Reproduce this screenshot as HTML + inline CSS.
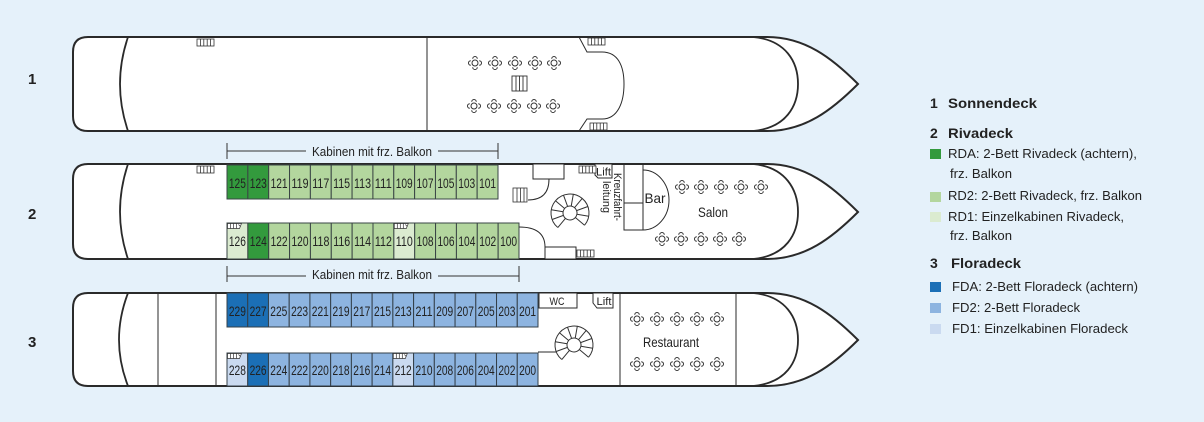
<!DOCTYPE html>
<html><head><meta charset="utf-8"><style>
html,body{margin:0;padding:0;background:#e5f1fa;}
svg{display:block;}
text{font-family:"Liberation Sans",sans-serif;fill:#222;}
</style></head><body>
<svg width="1204" height="422" viewBox="0 0 1204 422" xmlns="http://www.w3.org/2000/svg">
<defs>
<g id="tb" fill="none" stroke="#333" stroke-width="1">
<circle r="3"/>
<path d="M-2.3,-4.2 A2.3,2.3 0 0 1 2.3,-4.2 M-2.3,4.2 A2.3,2.3 0 0 0 2.3,4.2 M-4.2,-2.3 A2.3,2.3 0 0 0 -4.2,2.3 M4.2,-2.3 A2.3,2.3 0 0 1 4.2,2.3"/>
</g>
<g id="sp" fill="none" stroke="#333" stroke-width="1">
<circle r="7" fill="#fff"/>
<path d="M-16.45,9.5 A19,19 0 1 1 9.5,16.45"/>
<path d="M-6.06,3.5L-16.45,9.5 M-7,0L-19,0 M-6.06,-3.5L-16.45,-9.5 M-3.5,-6.06L-9.5,-16.45 M0,-7L0,-19 M3.5,-6.06L9.5,-16.45 M6.06,-3.5L16.45,-9.5 M7,0L19,0 M6.06,3.5L16.45,9.5 M3.5,6.06L9.5,16.45"/>
</g>
<g id="st" fill="#fff" stroke="#333" stroke-width="0.8">
<rect x="0" y="0" width="17" height="7"/>
<path d="M3.4,0V7M6.8,0V7M10.2,0V7M13.6,0V7"/>
</g>
<g id="hs" fill="#fff" stroke="#333" stroke-width="0.7">
<path d="M0,0H14L12,5H0Z"/>
<path d="M3,0V5M6,0V5M9,0V5M11,1L13,3"/>
</g>
</defs>

<text x="28" y="84" font-size="15" font-weight="bold">1</text>
<text x="28" y="219" font-size="15" font-weight="bold">2</text>
<text x="28" y="347" font-size="15" font-weight="bold">3</text>

<!-- DECK 1 -->
<path d="M88,37 L767,37 C805,37 832,58 858,84 C832,110 805,131 767,131 L88,131 Q73,131 73,116 L73,52 Q73,37 88,37 Z" stroke="#2a2a2a" stroke-width="2" fill="#fff"/>
<g fill="none" stroke="#2a2a2a">
<path d="M128,37 Q112,84 128,131" stroke-width="1.8"/>
<path d="M753,37 C786,40 798,62 798,84 C798,106 786,128 753,131" stroke-width="1.8"/>
<path d="M427,37V131" stroke-width="1"/>
<path d="M579,37 L587,52 L602,52 C618,52 624,66 624,84 C624,102 618,119 602,119 L587,119 L579,131" stroke-width="1"/>
</g>
<use href="#st" x="197" y="39"/>
<use href="#st" x="588" y="38"/>
<use href="#st" x="590" y="123"/>
<g fill="#fff" stroke="#333" stroke-width="0.9">
<rect x="512" y="76" width="15" height="15"/>
<path d="M516,76V91M519.5,76V91M523,76V91"/>
</g>
<use href="#tb" x="475" y="63"/><use href="#tb" x="495" y="63"/><use href="#tb" x="515" y="63"/><use href="#tb" x="535" y="63"/><use href="#tb" x="554" y="63"/>
<use href="#tb" x="474" y="106"/><use href="#tb" x="494" y="106"/><use href="#tb" x="514" y="106"/><use href="#tb" x="534" y="106"/><use href="#tb" x="553" y="106"/>

<!-- DECK 2 -->
<g stroke="#333" stroke-width="1">
<path d="M227,143V159M498,143V159M227,151H306M438,151H498"/>
<path d="M227,266V282M519,266V282M227,276H306M438,276H519"/>
</g>
<text x="312" y="156" font-size="13" textLength="120" lengthAdjust="spacingAndGlyphs">Kabinen mit frz. Balkon</text>
<text x="312" y="279" font-size="13" textLength="120" lengthAdjust="spacingAndGlyphs">Kabinen mit frz. Balkon</text>

<path d="M88,164 L767,164 C805,164 832,186 858,212 C832,238 805,259 767,259 L88,259 Q73,259 73,244 L73,179 Q73,164 88,164 Z" stroke="#2a2a2a" stroke-width="2" fill="#fff"/>
<g fill="none" stroke="#2a2a2a">
<path d="M128,164 Q112,212 128,259" stroke-width="1.8"/>
<path d="M753,164 C786,167 798,190 798,212 C798,234 786,256 753,259" stroke-width="1.8"/>
</g>
<use href="#st" x="197" y="166"/>

<g stroke="#3a4545" stroke-width="1">
<rect x="227" y="165" width="20.85" height="34" fill="#339a3d"/>
<rect x="247.85" y="165" width="20.85" height="34" fill="#339a3d"/>
<rect x="268.69" y="165" width="20.85" height="34" fill="#b3d69e"/>
<rect x="289.54" y="165" width="20.85" height="34" fill="#b3d69e"/>
<rect x="310.38" y="165" width="20.85" height="34" fill="#b3d69e"/>
<rect x="331.23" y="165" width="20.85" height="34" fill="#b3d69e"/>
<rect x="352.08" y="165" width="20.85" height="34" fill="#b3d69e"/>
<rect x="372.92" y="165" width="20.85" height="34" fill="#b3d69e"/>
<rect x="393.77" y="165" width="20.85" height="34" fill="#b3d69e"/>
<rect x="414.62" y="165" width="20.85" height="34" fill="#b3d69e"/>
<rect x="435.46" y="165" width="20.85" height="34" fill="#b3d69e"/>
<rect x="456.31" y="165" width="20.85" height="34" fill="#b3d69e"/>
<rect x="477.15" y="165" width="20.85" height="34" fill="#b3d69e"/>
</g>
<g font-size="14" text-anchor="middle">
<text x="237.4" y="188" textLength="17" lengthAdjust="spacingAndGlyphs">125</text>
<text x="258.3" y="188" textLength="17" lengthAdjust="spacingAndGlyphs">123</text>
<text x="279.1" y="188" textLength="17" lengthAdjust="spacingAndGlyphs">121</text>
<text x="300.0" y="188" textLength="17" lengthAdjust="spacingAndGlyphs">119</text>
<text x="320.8" y="188" textLength="17" lengthAdjust="spacingAndGlyphs">117</text>
<text x="341.6" y="188" textLength="17" lengthAdjust="spacingAndGlyphs">115</text>
<text x="362.5" y="188" textLength="17" lengthAdjust="spacingAndGlyphs">113</text>
<text x="383.3" y="188" textLength="17" lengthAdjust="spacingAndGlyphs">111</text>
<text x="404.2" y="188" textLength="17" lengthAdjust="spacingAndGlyphs">109</text>
<text x="425.0" y="188" textLength="17" lengthAdjust="spacingAndGlyphs">107</text>
<text x="445.9" y="188" textLength="17" lengthAdjust="spacingAndGlyphs">105</text>
<text x="466.7" y="188" textLength="17" lengthAdjust="spacingAndGlyphs">103</text>
<text x="487.6" y="188" textLength="17" lengthAdjust="spacingAndGlyphs">101</text>
</g>

<g stroke="#3a4545" stroke-width="1">
<rect x="227" y="223" width="20.86" height="36" fill="#dbebd0"/>
<rect x="247.86" y="223" width="20.86" height="36" fill="#339a3d"/>
<rect x="268.71" y="223" width="20.86" height="36" fill="#b3d69e"/>
<rect x="289.57" y="223" width="20.86" height="36" fill="#b3d69e"/>
<rect x="310.43" y="223" width="20.86" height="36" fill="#b3d69e"/>
<rect x="331.29" y="223" width="20.86" height="36" fill="#b3d69e"/>
<rect x="352.14" y="223" width="20.86" height="36" fill="#b3d69e"/>
<rect x="373.0" y="223" width="20.86" height="36" fill="#b3d69e"/>
<rect x="393.86" y="223" width="20.86" height="36" fill="#dbebd0"/>
<rect x="414.71" y="223" width="20.86" height="36" fill="#b3d69e"/>
<rect x="435.57" y="223" width="20.86" height="36" fill="#b3d69e"/>
<rect x="456.43" y="223" width="20.86" height="36" fill="#b3d69e"/>
<rect x="477.29" y="223" width="20.86" height="36" fill="#b3d69e"/>
<rect x="498.14" y="223" width="20.86" height="36" fill="#b3d69e"/>
</g>
<use href="#hs" x="227.5" y="223.5"/>
<use href="#hs" x="394.3" y="223.5"/>
<g font-size="14" text-anchor="middle">
<text x="237.4" y="246" textLength="17" lengthAdjust="spacingAndGlyphs">126</text>
<text x="258.3" y="246" textLength="17" lengthAdjust="spacingAndGlyphs">124</text>
<text x="279.1" y="246" textLength="17" lengthAdjust="spacingAndGlyphs">122</text>
<text x="300.0" y="246" textLength="17" lengthAdjust="spacingAndGlyphs">120</text>
<text x="320.9" y="246" textLength="17" lengthAdjust="spacingAndGlyphs">118</text>
<text x="341.7" y="246" textLength="17" lengthAdjust="spacingAndGlyphs">116</text>
<text x="362.6" y="246" textLength="17" lengthAdjust="spacingAndGlyphs">114</text>
<text x="383.4" y="246" textLength="17" lengthAdjust="spacingAndGlyphs">112</text>
<text x="404.3" y="246" textLength="17" lengthAdjust="spacingAndGlyphs">110</text>
<text x="425.1" y="246" textLength="17" lengthAdjust="spacingAndGlyphs">108</text>
<text x="446.0" y="246" textLength="17" lengthAdjust="spacingAndGlyphs">106</text>
<text x="466.9" y="246" textLength="17" lengthAdjust="spacingAndGlyphs">104</text>
<text x="487.7" y="246" textLength="17" lengthAdjust="spacingAndGlyphs">102</text>
<text x="508.6" y="246" textLength="17" lengthAdjust="spacingAndGlyphs">100</text>
</g>

<g fill="none" stroke="#2a2a2a" stroke-width="1">
<rect x="533" y="164" width="31" height="15" fill="#fff"/>
<path d="M549,179 Q549,200 528,200"/>
<path d="M519,227 Q545,227 545,247"/>
<rect x="545" y="247" width="31" height="12" fill="#fff"/>
<path d="M624,164V230H643V164M624,203H643"/>
<path d="M643,170 A26,30 0 0 1 643,230"/>
<path d="M595,164 L612,164 L612,178 L598,178 L595,175 Z" fill="#fff"/>
</g>
<g fill="#fff" stroke="#333" stroke-width="0.8">
<rect x="513" y="188" width="14" height="14"/>
<path d="M517,188V202M520.5,188V202M524,188V202"/>
</g>
<use href="#st" x="579" y="166"/>
<use href="#st" x="577" y="250"/>
<use href="#sp" transform="translate(570,213) rotate(-20)"/>
<text x="603.5" y="175.5" font-size="11" text-anchor="middle" textLength="15" lengthAdjust="spacingAndGlyphs">Lift</text>
<g transform="translate(614,197) rotate(90)">
<text x="0" y="0" font-size="11" text-anchor="middle" textLength="48" lengthAdjust="spacingAndGlyphs">Kreuzfahrt-</text>
<text x="0" y="11" font-size="11" text-anchor="middle" textLength="32" lengthAdjust="spacingAndGlyphs">leitung</text>
</g>
<text x="655" y="203" font-size="14" text-anchor="middle" textLength="21" lengthAdjust="spacingAndGlyphs">Bar</text>
<text x="713" y="217" font-size="14" text-anchor="middle" textLength="30" lengthAdjust="spacingAndGlyphs">Salon</text>
<use href="#tb" x="682" y="187"/><use href="#tb" x="701" y="187"/><use href="#tb" x="721" y="187"/><use href="#tb" x="741" y="187"/><use href="#tb" x="761" y="187"/>
<use href="#tb" x="662" y="239"/><use href="#tb" x="681" y="239"/><use href="#tb" x="701" y="239"/><use href="#tb" x="720" y="239"/><use href="#tb" x="739" y="239"/>

<!-- DECK 3 -->
<path d="M88,293 L767,293 C805,293 832,314 858,340 C832,366 805,386 767,386 L88,386 Q73,386 73,371 L73,308 Q73,293 88,293 Z" stroke="#2a2a2a" stroke-width="2" fill="#fff"/>
<g fill="none" stroke="#2a2a2a">
<path d="M128,293 Q110,340 128,386" stroke-width="1.8"/>
<path d="M753,293 C786,296 798,318 798,340 C798,362 786,383 753,386" stroke-width="1.8"/>
<path d="M158,293V386M216,293V386M620,293V386M736,293V386" stroke-width="1"/>
</g>
<g stroke="#34404a" stroke-width="1">
<rect x="227" y="293" width="20.73" height="34" fill="#1b6fb6"/>
<rect x="247.73" y="293" width="20.73" height="34" fill="#1b6fb6"/>
<rect x="268.47" y="293" width="20.73" height="34" fill="#8db4e0"/>
<rect x="289.2" y="293" width="20.73" height="34" fill="#8db4e0"/>
<rect x="309.93" y="293" width="20.73" height="34" fill="#8db4e0"/>
<rect x="330.67" y="293" width="20.73" height="34" fill="#8db4e0"/>
<rect x="351.4" y="293" width="20.73" height="34" fill="#8db4e0"/>
<rect x="372.13" y="293" width="20.73" height="34" fill="#8db4e0"/>
<rect x="392.87" y="293" width="20.73" height="34" fill="#8db4e0"/>
<rect x="413.6" y="293" width="20.73" height="34" fill="#8db4e0"/>
<rect x="434.33" y="293" width="20.73" height="34" fill="#8db4e0"/>
<rect x="455.07" y="293" width="20.73" height="34" fill="#8db4e0"/>
<rect x="475.8" y="293" width="20.73" height="34" fill="#8db4e0"/>
<rect x="496.53" y="293" width="20.73" height="34" fill="#8db4e0"/>
<rect x="517.27" y="293" width="20.73" height="34" fill="#8db4e0"/>
</g>
<g font-size="14" text-anchor="middle">
<text x="237.4" y="316" textLength="17" lengthAdjust="spacingAndGlyphs">229</text>
<text x="258.1" y="316" textLength="17" lengthAdjust="spacingAndGlyphs">227</text>
<text x="278.8" y="316" textLength="17" lengthAdjust="spacingAndGlyphs">225</text>
<text x="299.6" y="316" textLength="17" lengthAdjust="spacingAndGlyphs">223</text>
<text x="320.3" y="316" textLength="17" lengthAdjust="spacingAndGlyphs">221</text>
<text x="341.0" y="316" textLength="17" lengthAdjust="spacingAndGlyphs">219</text>
<text x="361.8" y="316" textLength="17" lengthAdjust="spacingAndGlyphs">217</text>
<text x="382.5" y="316" textLength="17" lengthAdjust="spacingAndGlyphs">215</text>
<text x="403.2" y="316" textLength="17" lengthAdjust="spacingAndGlyphs">213</text>
<text x="424.0" y="316" textLength="17" lengthAdjust="spacingAndGlyphs">211</text>
<text x="444.7" y="316" textLength="17" lengthAdjust="spacingAndGlyphs">209</text>
<text x="465.4" y="316" textLength="17" lengthAdjust="spacingAndGlyphs">207</text>
<text x="486.2" y="316" textLength="17" lengthAdjust="spacingAndGlyphs">205</text>
<text x="506.9" y="316" textLength="17" lengthAdjust="spacingAndGlyphs">203</text>
<text x="527.6" y="316" textLength="17" lengthAdjust="spacingAndGlyphs">201</text>
</g>
<g stroke="#34404a" stroke-width="1">
<rect x="227" y="353" width="20.73" height="33" fill="#cadaf0"/>
<rect x="247.73" y="353" width="20.73" height="33" fill="#1b6fb6"/>
<rect x="268.47" y="353" width="20.73" height="33" fill="#8db4e0"/>
<rect x="289.2" y="353" width="20.73" height="33" fill="#8db4e0"/>
<rect x="309.93" y="353" width="20.73" height="33" fill="#8db4e0"/>
<rect x="330.67" y="353" width="20.73" height="33" fill="#8db4e0"/>
<rect x="351.4" y="353" width="20.73" height="33" fill="#8db4e0"/>
<rect x="372.13" y="353" width="20.73" height="33" fill="#8db4e0"/>
<rect x="392.87" y="353" width="20.73" height="33" fill="#cadaf0"/>
<rect x="413.6" y="353" width="20.73" height="33" fill="#8db4e0"/>
<rect x="434.33" y="353" width="20.73" height="33" fill="#8db4e0"/>
<rect x="455.07" y="353" width="20.73" height="33" fill="#8db4e0"/>
<rect x="475.8" y="353" width="20.73" height="33" fill="#8db4e0"/>
<rect x="496.53" y="353" width="20.73" height="33" fill="#8db4e0"/>
<rect x="517.27" y="353" width="20.73" height="33" fill="#8db4e0"/>
</g>
<use href="#hs" x="227.5" y="353.5"/>
<use href="#hs" x="393.3" y="353.5"/>
<g font-size="14" text-anchor="middle">
<text x="237.4" y="375" textLength="17" lengthAdjust="spacingAndGlyphs">228</text>
<text x="258.1" y="375" textLength="17" lengthAdjust="spacingAndGlyphs">226</text>
<text x="278.8" y="375" textLength="17" lengthAdjust="spacingAndGlyphs">224</text>
<text x="299.6" y="375" textLength="17" lengthAdjust="spacingAndGlyphs">222</text>
<text x="320.3" y="375" textLength="17" lengthAdjust="spacingAndGlyphs">220</text>
<text x="341.0" y="375" textLength="17" lengthAdjust="spacingAndGlyphs">218</text>
<text x="361.8" y="375" textLength="17" lengthAdjust="spacingAndGlyphs">216</text>
<text x="382.5" y="375" textLength="17" lengthAdjust="spacingAndGlyphs">214</text>
<text x="403.2" y="375" textLength="17" lengthAdjust="spacingAndGlyphs">212</text>
<text x="424.0" y="375" textLength="17" lengthAdjust="spacingAndGlyphs">210</text>
<text x="444.7" y="375" textLength="17" lengthAdjust="spacingAndGlyphs">208</text>
<text x="465.4" y="375" textLength="17" lengthAdjust="spacingAndGlyphs">206</text>
<text x="486.2" y="375" textLength="17" lengthAdjust="spacingAndGlyphs">204</text>
<text x="506.9" y="375" textLength="17" lengthAdjust="spacingAndGlyphs">202</text>
<text x="527.6" y="375" textLength="17" lengthAdjust="spacingAndGlyphs">200</text>
</g>
<g fill="#fff" stroke="#2a2a2a" stroke-width="1">
<rect x="539" y="293" width="38" height="15"/>
<path d="M593,293 L613,293 L613,308 L597,308 L593,303 Z"/>
<path d="M538,352 H556" fill="none"/>
</g>
<text x="557" y="305" font-size="11" text-anchor="middle" textLength="15" lengthAdjust="spacingAndGlyphs">WC</text>
<text x="604" y="305" font-size="11" text-anchor="middle" textLength="15" lengthAdjust="spacingAndGlyphs">Lift</text>
<use href="#sp" transform="translate(574,345) rotate(-20)"/>
<text x="671" y="347" font-size="14" text-anchor="middle" textLength="56" lengthAdjust="spacingAndGlyphs">Restaurant</text>
<use href="#tb" x="637" y="319"/><use href="#tb" x="657" y="319"/><use href="#tb" x="677" y="319"/><use href="#tb" x="697" y="319"/><use href="#tb" x="717" y="319"/>
<use href="#tb" x="637" y="364"/><use href="#tb" x="657" y="364"/><use href="#tb" x="677" y="364"/><use href="#tb" x="697" y="364"/><use href="#tb" x="717" y="364"/>

<!-- LEGEND -->
<g font-size="14" font-weight="bold">
<text x="930" y="108">1</text>
<text x="948" y="108" textLength="89" lengthAdjust="spacingAndGlyphs">Sonnendeck</text>
<text x="930" y="138">2</text>
<text x="948" y="138" textLength="65" lengthAdjust="spacingAndGlyphs">Rivadeck</text>
<text x="930" y="268">3</text>
<text x="951" y="268" textLength="70" lengthAdjust="spacingAndGlyphs">Floradeck</text>
</g>
<rect x="930" y="149" width="11" height="10" fill="#339a3d"/>
<rect x="930" y="192" width="11" height="10" fill="#b3d69e"/>
<rect x="930" y="212" width="11" height="10" fill="#dbebd0"/>
<rect x="930" y="282" width="11" height="10" fill="#1b6fb6"/>
<rect x="930" y="303" width="11" height="10" fill="#8db4e0"/>
<rect x="930" y="324" width="11" height="10" fill="#cadaf0"/>
<g font-size="13">
<text x="948" y="158" textLength="189" lengthAdjust="spacingAndGlyphs">RDA: 2-Bett Rivadeck (achtern),</text>
<text x="950" y="178" textLength="62" lengthAdjust="spacingAndGlyphs">frz. Balkon</text>
<text x="948" y="200" textLength="194" lengthAdjust="spacingAndGlyphs">RD2: 2-Bett Rivadeck, frz. Balkon</text>
<text x="948" y="221" textLength="176" lengthAdjust="spacingAndGlyphs">RD1: Einzelkabinen Rivadeck,</text>
<text x="950" y="240" textLength="62" lengthAdjust="spacingAndGlyphs">frz. Balkon</text>
<text x="952" y="291" textLength="186" lengthAdjust="spacingAndGlyphs">FDA: 2-Bett Floradeck (achtern)</text>
<text x="952" y="312" textLength="128" lengthAdjust="spacingAndGlyphs">FD2: 2-Bett Floradeck</text>
<text x="952" y="333" textLength="176" lengthAdjust="spacingAndGlyphs">FD1: Einzelkabinen Floradeck</text>
</g>
</svg>
</body></html>
